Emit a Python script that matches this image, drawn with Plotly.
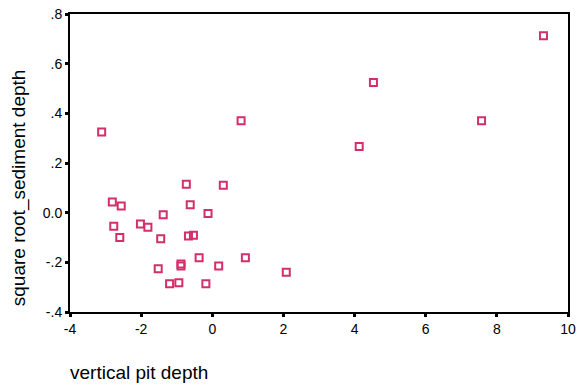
import plotly.graph_objects as go

x_vals = [-3.11, -2.81, -2.56, -2.77, -2.60, -2.02, -1.81, -1.38, -1.45, -0.73,
          -0.62, -0.67, -0.53, -1.52, -0.88, -0.88, -1.20, -0.94, -0.37, 0.93,
          0.18, -0.18, 2.08, 0.81, 4.13, 0.31, -0.12, 4.53, 9.31, 7.57]
y_vals = [0.325, 0.043, 0.027, -0.055, -0.100, -0.046, -0.059, -0.008, -0.105, 0.114,
          0.032, -0.094, -0.091, -0.226, -0.207, -0.215, -0.286, -0.282, -0.182, -0.182,
          -0.215, -0.286, -0.240, 0.370, 0.266, 0.110, -0.003, 0.524, 0.712, 0.370]

x_ticks = [-4, -2, 0, 2, 4, 6, 8, 10]
x_tick_labels = ["-4", "-2", "0", "2", "4", "6", "8", "10"]
y_ticks = [-0.4, -0.2, 0.0, 0.2, 0.4, 0.6, 0.8]
y_tick_labels = ["-.4", "-.2", "0.0", ".2", ".4", ".6", ".8"]

fig = go.Figure()
fig.add_trace(go.Scatter(
    x=x_vals, y=y_vals, mode="markers",
    marker=dict(symbol="square-open", size=7, color="#d42f6a",
                line=dict(width=2, color="#d42f6a")),
    showlegend=False,
))

axis_common = dict(showline=True, linecolor="black", linewidth=2, mirror=True,
                   ticks="outside", ticklen=3, tickwidth=3, tickcolor="black",
                   showgrid=False, zeroline=False, automargin=False,
                   tickfont=dict(family="Liberation Sans, Arial", size=14, color="black"))

fig.update_xaxes(range=[-4, 10], tickvals=x_ticks, ticktext=x_tick_labels, **axis_common)
fig.update_yaxes(range=[-0.4, 0.8], tickvals=y_ticks, ticktext=y_tick_labels, **axis_common)

fig.add_annotation(text="vertical pit depth", xref="paper", yref="paper",
                   x=-0.005, y=-0.16, xanchor="left", yanchor="top", showarrow=False,
                   font=dict(family="Liberation Sans, Arial", size=19, color="black"))
fig.add_annotation(text="square root_sediment depth", xref="paper", yref="paper",
                   x=-0.102, y=0.416, xanchor="center", yanchor="middle", textangle=-90,
                   showarrow=False,
                   font=dict(family="Liberation Sans, Arial", size=19, color="black"))

fig.update_layout(width=578, height=386, plot_bgcolor="white", paper_bgcolor="white",
                  margin=dict(l=70, r=10, t=14, b=74))
fig.write_html("out.html", config={"displayModeBar": False},
               post_script="document.body.style.margin='0';document.body.style.overflow='hidden';")
